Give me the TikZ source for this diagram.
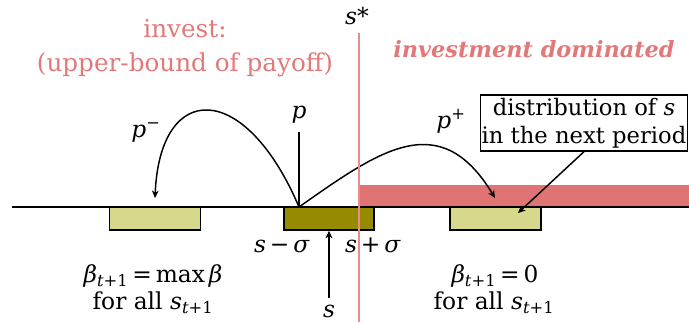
\documentclass[tikz,border=0pt]{standalone}
\usepackage{fontspec}
\setmainfont{DejaVu Serif}
\usetikzlibrary{arrows.meta}
\definecolor{redbar}{RGB}{224,115,115}
\definecolor{redline}{RGB}{234,140,140}
\definecolor{redtext}{RGB}{226,120,120}
\definecolor{lightolive}{RGB}{214,217,140}
\definecolor{darkolive}{RGB}{150,138,0}
\newcommand\vi[1]{\textit{#1}}
\begin{document}
\begin{tikzpicture}[x=0.75pt,y=-0.75pt,
  font=\fontsize{17.5}{21}\selectfont,
  lbl/.style={anchor=base, inner sep=0pt},
  bigtxt/.style={font=\fontsize{18.5}{22}\selectfont},
  olivebox/.style={draw, line width=1.2pt, inner sep=0pt},
  conn/.style={line width=1.1pt, -{Stealth[length=5.5pt,width=5pt,inset=1.5pt]}},
  plain/.style={line width=1.1pt}]
\useasboundingbox (0,0) rectangle (689,322);
% red bar
\fill[redbar] (360,185) rectangle (689,207);
% axis
\coordinate (axL) at (12,207);
\coordinate (axR) at (689,207);
\draw[line width=1pt] (axL) -- (axR);
% boxes
\node[olivebox, fill=lightolive, minimum width=68pt, minimum height=17.25pt] (leftbox) at (155,218.5) {};
\node[olivebox, fill=darkolive, minimum width=67.5pt, minimum height=17.25pt] (midbox) at (329,218.5) {};
\node[olivebox, fill=lightolive, minimum width=68pt, minimum height=17.25pt] (rightbox) at (495.5,218.5) {};
% top texts
\node[lbl, bigtxt, text=redtext] (inv1) at (185,37) {invest:};
\node[lbl, bigtxt, text=redtext] (inv2) at (185,71) {(upper-bound of payoff)};
\node[lbl, text=redtext, font=\fontsize{16.8}{20}\selectfont] (dom) at (534,57) {\textbf{\textit{investment dominated}}};
\node[lbl] (sstar) at (357,24) {\vi{s}*};
% p line and arcs
\coordinate (origin) at (299,207);
\coordinate (ptop) at (299,132);
\draw[plain] (origin) -- (ptop);
\node[lbl] (plab) at (299,118) {\vi{p}};
\coordinate (leftend) at (155,198);
\coordinate (rightend) at (495,198);
\draw[conn] (origin) .. controls (245,80) and (160,80) .. (leftend);
\draw[conn] (origin) .. controls (380,150) and (440,107) .. (rightend);
\node[lbl] (pminus) at (146,137) {\vi{p}\textsuperscript{−}};
\node[lbl] (pplus) at (451,128) {\vi{p}\textsuperscript{+}};
% distribution box
\node[draw, line width=1pt, align=center, inner sep=0pt, minimum width=155pt, minimum height=42pt, font=\fontsize{17}{21}\selectfont] (dist) at (584,123) {distribution of \vi{s}\\in the next period};
\coordinate (disttgt) at (518,213);
\draw[conn] (dist.south) -- (disttgt);
% labels under mid box
\node[lbl] (sminus) at (282,252) {\vi{s}\,−\,\vi{σ}};
\node[lbl] (splus) at (373,252) {\vi{s}\,+\,\vi{σ}};
\coordinate (sfoot) at (329,298);
\draw[conn] (sfoot) -- (midbox.south -| sfoot);
\node[lbl] (slab) at (329,317) {\vi{s}};
% bottom texts
\node[lbl] (bl1) at (153,282) {\vi{β}\textsubscript{\vi{t}+1}\,=\,max\,\vi{β}};
\node[lbl] (bl2) at (153,309) {for all \vi{s}\textsubscript{\vi{t}+1}};
\node[lbl] (br1) at (495,282) {\vi{β}\textsubscript{\vi{t}+1}\,=\,0};
\node[lbl] (br2) at (494,309) {for all \vi{s}\textsubscript{\vi{t}+1}};
% s* line
\coordinate (sline1) at (359,33);
\coordinate (sline2) at (359,322);
\draw[redline, line width=1.4pt] (sline1) -- (sline2);
\end{tikzpicture}
\end{document}
